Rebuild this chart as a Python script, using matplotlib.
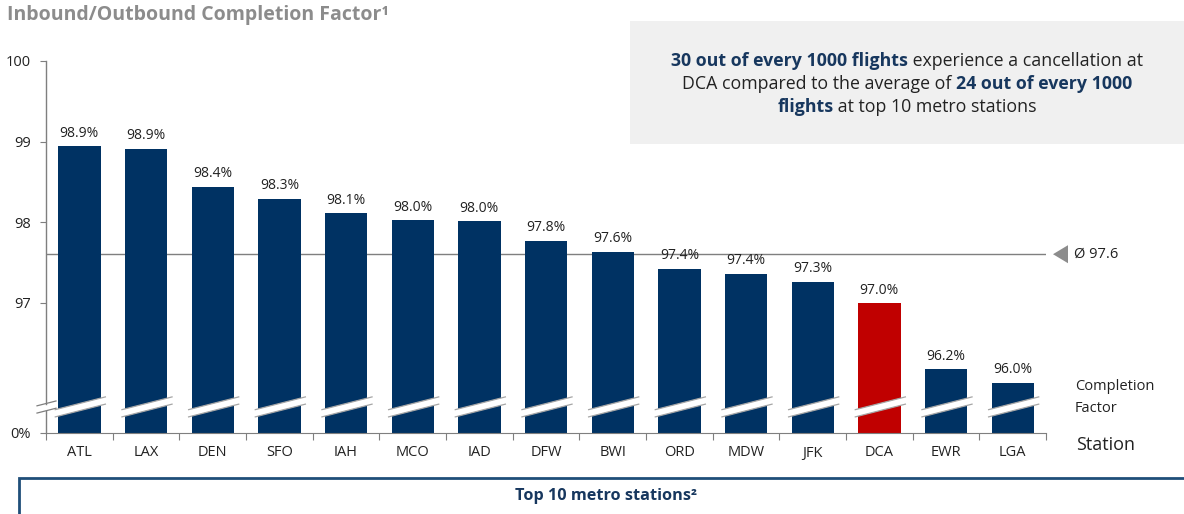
import numpy as np
import matplotlib
matplotlib.use('Agg')
import matplotlib.pyplot as plt
from matplotlib.patches import Polygon, Rectangle

# data
stations = ['ATL', 'LAX', 'DEN', 'SFO', 'IAH', 'MCO', 'IAD', 'DFW', 'BWI',
            'ORD', 'MDW', 'JFK', 'DCA', 'EWR', 'LGA']
values = [98.94, 98.91, 98.44, 98.29, 98.11, 98.02, 98.01, 97.77, 97.63,
          97.42, 97.36, 97.26, 96.99, 96.17, 96.00]
labels = ['98.9%', '98.9%', '98.4%', '98.3%', '98.1%', '98.0%', '98.0%', '97.8%',
          '97.6%', '97.4%', '97.4%', '97.3%', '97.0%', '96.2%', '96.0%']
avg = 97.6
highlight = 'DCA'
yticks = [97, 98, 99, 100]

navy = '#003263'
red = '#c00000'
grey = '#8c8c8c'
darkblue = '#17375e'
txt = '#222222'

plt.rcParams['font.family'] = ['Open Sans', 'DejaVu Sans']

W, H = 1184, 514
fig = plt.figure(figsize=(W / 100, H / 100), dpi=100)

# axes placed in pixel space: x 46..1046, y 61 (=100) .. 433 (=broken base)
px_per_unit = 80.5
ytop = 100
ybot = ytop - (433 - 61) / px_per_unit
ax = fig.add_axes([46 / W, 1 - 433 / H, 1000 / W, 372 / H])
ax.set_xlim(-0.5, len(stations) - 0.5)
ax.set_ylim(ybot, ytop)

x = np.arange(len(stations))
colors = [red if s == highlight else navy for s in stations]
ax.bar(x, np.array(values) - ybot, bottom=ybot, width=0.635, color=colors, zorder=2)

for xi, v, lab in zip(x, values, labels):
    ax.text(xi, v + 0.07, lab, ha='center', va='bottom', fontsize=10, color=txt)

# break marks across the bars
brk = 95.70
slope = 0.16 / 0.76
gap = 0.045
def brk_y(xx, xc, off):
    return brk + (xx - xc) * slope + off

for xi in x:
    xl, xr = xi - 0.37, xi + 0.40
    poly = Polygon([[xl, brk_y(xl, xi, -gap)], [xr, brk_y(xr, xi, -gap)],
                    [xr, brk_y(xr, xi, gap)], [xl, brk_y(xl, xi, gap)]],
                   closed=True, facecolor='white', edgecolor='none', zorder=3)
    ax.add_patch(poly)
    for off in (-gap, gap):
        ax.plot([xl, xr], [brk_y(xl, xi, off), brk_y(xr, xi, off)],
                color='#a6a6a6', lw=0.9, zorder=4, solid_capstyle='butt')

# left spine drawn by hand with a gap at the break
ax.spines['left'].set_visible(False)
ax.spines['top'].set_visible(False)
ax.spines['right'].set_visible(False)
ax.spines['bottom'].set_color('#7f7f7f')
xs = -0.5
ax.plot([xs, xs], [ytop, brk_y(xs, xs, gap)], color='#7f7f7f', lw=1, clip_on=False, zorder=5)
ax.plot([xs, xs], [brk_y(xs, xs, -gap), ybot], color='#7f7f7f', lw=1, clip_on=False, zorder=5)
for off in (-gap, gap):
    ax.plot([xs - 0.135, xs + 0.15], [brk_y(xs - 0.135, xs, off), brk_y(xs + 0.15, xs, off)],
            color='#7f7f7f', lw=0.9, clip_on=False, zorder=5)

ax.set_yticks([ybot] + yticks)
ax.set_yticklabels(['0%'] + [str(t) for t in yticks])
ax.tick_params(axis='y', length=4, color='#7f7f7f', labelsize=10.5, labelcolor=txt, pad=7)

ax.set_xticks(np.arange(-0.5, len(stations)), minor=False)
ax.set_xticklabels([])
ax.set_xticks(x, minor=True)
ax.set_xticklabels(stations, minor=True)
ax.tick_params(axis='x', which='major', length=5, color='#7f7f7f')
ax.tick_params(axis='x', which='minor', length=0, labelsize=10.5, labelcolor=txt, pad=9)

# average line with marker
ax.axhline(avg, color='#7f7f7f', lw=1, zorder=1)
tri = Polygon([[14.605, avg], [14.83, avg + 0.112], [14.83, avg - 0.112]],
              closed=True, facecolor='#8c8c8c', edgecolor='none', clip_on=False)
ax.add_patch(tri)
ax.text(14.92, avg, f'Ø {avg}', ha='left', va='center', fontsize=10.5, color=txt,
        clip_on=False)

ax.text(14.935, 95.82, 'Completion\nFactor', ha='left', va='center', fontsize=10.5,
        color=txt, linespacing=1.55)
fig.text(1076 / W, 1 - 445 / H, 'Station', ha='left', va='center', fontsize=13, color=txt)

# title
fig.text(7 / W, 1 - 15 / H, 'Inbound/Outbound Completion Factor¹', ha='left', va='center',
         fontsize=14, fontweight='bold', color=grey)

# grey call-out box
fig.patches.append(Rectangle((630 / W, 1 - 144 / H), (W - 630) / W, 123 / H,
                             transform=fig.transFigure, facecolor='#f0f0f0',
                             edgecolor='none', zorder=0))

rich_lines = [
    [('30 out of every 1000 flights', True), (' experience a cancellation at', False)],
    [('DCA compared to the average of ', False), ('24 out of every 1000', True)],
    [('flights', True), (' at top 10 metro stations', False)],
]
line_y = [61, 84, 107]
cx = 907
renderer = fig.canvas.get_renderer()
for segs, ly in zip(rich_lines, line_y):
    texts = []
    for s, b in segs:
        t = fig.text(0, 1 - ly / H, s, ha='left', va='center', fontsize=12.8,
                     fontweight='bold' if b else 'normal',
                     color=darkblue if b else txt)
        texts.append(t)
    widths = [t.get_window_extent(renderer).width for t in texts]
    start = cx - sum(widths) / 2
    for t, w in zip(texts, widths):
        t.set_x(start / W)
        start += w

# bottom blue frame
fig.patches.append(Rectangle((19 / W, -0.05), 1.1, (1 - 478 / H) + 0.05,
                             transform=fig.transFigure, facecolor='none',
                             edgecolor='#1f4e79', lw=2, clip_on=False))
fig.text(606 / W, 1 - 496 / H, 'Top 10 metro stations²', ha='center', va='center',
         fontsize=11.7, fontweight='bold', color=darkblue)

fig.savefig('out.png', dpi=100)
